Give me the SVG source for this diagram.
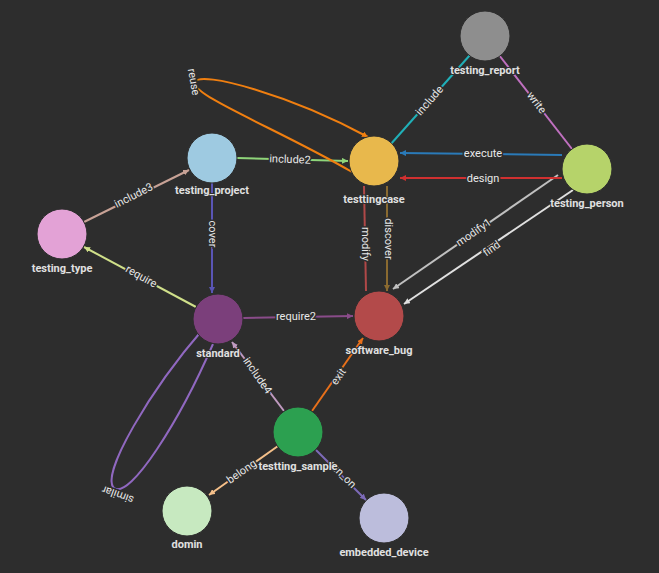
<svg xmlns="http://www.w3.org/2000/svg" width="659" height="573" viewBox="0 0 659 573">
<style>
.n{stroke:#2d2d2d;stroke-width:1}
.nl{font-family:Roboto,"Liberation Sans",sans-serif;font-size:11px;font-weight:bold;fill:#e0e0e0;text-anchor:middle;paint-order:stroke;stroke:#2d2d2d;stroke-width:2}
.el{font-family:Roboto,"Liberation Sans",sans-serif;font-size:11px;fill:#e8e8e8;text-anchor:middle;dominant-baseline:middle;paint-order:stroke;stroke:#2d2d2d;stroke-width:3}
.e{fill:none;stroke-width:2}
</style>
<defs>
<marker id="a" viewBox="0 0 10 10" refX="10" refY="5" markerWidth="6" markerHeight="6" orient="auto" markerUnits="userSpaceOnUse"><path d="M0,0L10,5L0,10z" fill="context-stroke"/></marker>
</defs>
<rect width="659" height="573" fill="#2d2d2d"/>
<g id="edges">
<path class="e" stroke="#8fd57a" d="M237,158 L348,161" marker-end="url(#a)" style="marker-end:url(#a)"/>
<path class="e" stroke="#c8a296" d="M84,222 L189,170" marker-end="url(#a)"/>
<path class="e" stroke="#5a55b5" d="M212,183 L212,293" marker-end="url(#a)"/>
<path class="e" stroke="#d0e08a" d="M196,307 L84,247" marker-end="url(#a)"/>
<path class="e" stroke="#8a4c8a" d="M243,318 L353,316" marker-end="url(#a)"/>
<path class="e" stroke="#c09ac0" d="M284,411 L232,342" marker-end="url(#a)"/>
<path class="e" stroke="#e8701a" d="M312,411 L363,338" marker-end="url(#a)"/>
<path class="e" stroke="#f5c08a" d="M278,446 L209,495" marker-end="url(#a)"/>
<path class="e" stroke="#7d6ab8" d="M316,450 L366,500" marker-end="url(#a)"/>
<path class="e" stroke="#8a6a30" d="M387,186 L387,291" marker-end="url(#a)"/>
<path class="e" stroke="#b04848" d="M366,291 L364,186"/>
<path class="e" stroke="#c0c0c0" d="M558,175 L393,289" marker-end="url(#a)"/>
<path class="e" stroke="#e0e0e0" d="M573,190 L404,304" marker-end="url(#a)"/>
<path class="e" stroke="#2a7ab8" d="M562,155 L400,153" marker-end="url(#a)"/>
<path class="e" stroke="#d03030" d="M562,178 L400,178" marker-end="url(#a)"/>
<path class="e" stroke="#20b0b8" d="M470,55 L390,145"/>
<path class="e" stroke="#c070c0" d="M499,55 L572,149"/>
<path class="e" stroke="#f07f10" d="M352,172 C280,130 190,95 195,82 C200,70 290,95 368,137" marker-end="url(#a)"/>
<path class="e" stroke="#9068c0" d="M213,344 C180,420 130,500 114,488 C100,475 150,390 204,328" marker-end="url(#a)"/>
</g>
<g id="edge-labels">
<text class="el" transform="translate(290,160) rotate(2)">include2</text>
<text class="el" transform="translate(134,196) rotate(-27)">include3</text>
<text class="el" transform="translate(212,234) rotate(90)">cover</text>
<text class="el" transform="translate(141,277) rotate(29)">require</text>
<text class="el" transform="translate(296,317)">require2</text>
<text class="el" transform="translate(257,376) rotate(55)">include4</text>
<text class="el" transform="translate(339,377) rotate(-55)">exit</text>
<text class="el" transform="translate(242,472) rotate(-35)">belong</text>
<text class="el" transform="translate(342,475) rotate(45)">run_on</text>
<text class="el" transform="translate(365,244) rotate(90)">modify</text>
<text class="el" transform="translate(388,239) rotate(90)">discover</text>
<text class="el" transform="translate(483,154)">execute</text>
<text class="el" transform="translate(483,179)">design</text>
<text class="el" transform="translate(474,233) rotate(-35)">modify1</text>
<text class="el" transform="translate(492,249) rotate(-35)">find</text>
<text class="el" transform="translate(430,101) rotate(-49)">include</text>
<text class="el" transform="translate(536,103) rotate(53)">write</text>
<text class="el" transform="translate(193,82) rotate(80)">reuse</text>
<text class="el" transform="translate(118,494) rotate(200)">similar</text>
</g>
<g id="testing_report"><circle class="n" cx="485" cy="36" r="25" fill="#8e8e8e"/><text class="nl" x="485" y="74">testing_report</text></g>
<g id="testtingcase"><circle class="n" cx="374" cy="161" r="25" fill="#e8b84c"/><text class="nl" x="374" y="203">testtingcase</text></g>
<g id="testing_project"><circle class="n" cx="212" cy="158" r="25" fill="#9ecae1"/><text class="nl" x="212" y="194">testing_project</text></g>
<g id="testing_person"><circle class="n" cx="587" cy="169" r="25" fill="#b6d36a"/><text class="nl" x="587" y="207">testing_person</text></g>
<g id="testing_type"><circle class="n" cx="62" cy="234" r="25" fill="#e3a2d6"/><text class="nl" x="62" y="272">testing_type</text></g>
<g id="standard"><circle class="n" cx="218" cy="319" r="25" fill="#7b3f7b"/><text class="nl" x="218" y="357">standard</text></g>
<g id="software_bug"><circle class="n" cx="379" cy="316" r="25" fill="#b34a4a"/><text class="nl" x="379" y="354">software_bug</text></g>
<g id="testting_sample"><circle class="n" cx="298" cy="432" r="25" fill="#2ca050"/><text class="nl" x="298" y="470">testting_sample</text></g>
<g id="domin"><circle class="n" cx="187" cy="511" r="25" fill="#c7e9c0"/><text class="nl" x="187" y="548">domin</text></g>
<g id="embedded_device"><circle class="n" cx="384" cy="518" r="25" fill="#bcbddc"/><text class="nl" x="384" y="556">embedded_device</text></g>
</svg>
